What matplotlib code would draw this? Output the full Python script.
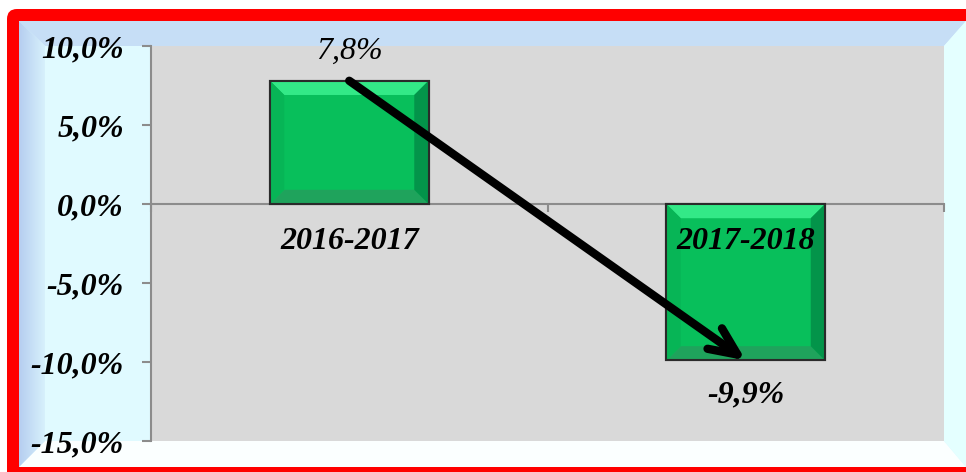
import numpy as np
import matplotlib.pyplot as plt
from matplotlib.colors import LinearSegmentedColormap
from matplotlib.patches import Polygon, FancyBboxPatch, Rectangle

periods = ['2016-2017', '2017-2018']
changes = [7.8, -9.9]
yticks = [10, 5, 0, -5, -10, -15]


def pct(v):
    return f'{v:.1f}%'.replace('.', ',')


W, H = 966, 472
fig = plt.figure(figsize=(W / 100, H / 100), dpi=100)
fig.patch.set_facecolor('white')

# background frame drawn in pixel space
bg = fig.add_axes([0, 0, 1, 1], zorder=0)
bg.axis('off')
bg.add_patch(FancyBboxPatch((7, 9), 1000, 500, boxstyle='round,pad=0,rounding_size=10',
                            fc='#ff0000', ec='none'))
bg.add_patch(Rectangle((19, 21), 1000, 446, fc='#e0faff', ec='none'))
# bevels of the inner panel
bg.add_patch(Polygon([(19, 21), (966, 21), (944, 46), (45, 46)], fc='#c6def6', ec='none'))
bg.add_patch(Polygon([(19, 467), (966, 467), (944, 441), (45, 441)], fc='#fbffff', ec='none'))
bg.add_patch(Polygon([(944, 46), (966, 21), (966, 467), (944, 441)], fc='#e4ffff', ec='none'))
left = Polygon([(19, 21), (45, 46), (45, 441), (19, 467)], fc='none', ec='none')
bg.add_patch(left)
grad = np.linspace(0, 1, 64)[None, :]
im = bg.imshow(grad, extent=(19, 52, 467, 21), aspect='auto', zorder=1,
               cmap=LinearSegmentedColormap.from_list('lb', ['#b6cef0', '#e0faff']))
im.set_clip_path(left)
bg.set_xlim(0, W)
bg.set_ylim(H, 0)

ax = fig.add_axes([151 / W, 1 - 441 / H, (944 - 151) / W, (441 - 46) / H], zorder=2)
ax.set_facecolor('#d9d9d9')
ax.set_xlim(-0.5, 1.5)
ax.set_ylim(-15, 10)

x = np.arange(len(changes))
bw = 0.4
ax.bar(x, changes, width=bw, color='#08bf5b', edgecolor='#2a2a2a', linewidth=1.5, zorder=3)

# bevelled look on each bar
dx, dy = 0.036, 0.9
for xi, v in zip(x, changes):
    x0, x1 = xi - bw / 2, xi + bw / 2
    top, bot = max(0, v), min(0, v)
    faces = [
        ([(x0, top), (x1, top), (x1 - dx, top - dy), (x0 + dx, top - dy)], '#33e987'),
        ([(x0, bot), (x1, bot), (x1 - dx, bot + dy), (x0 + dx, bot + dy)], '#1fa35c'),
        ([(x1, top), (x1, bot), (x1 - dx, bot + dy), (x1 - dx, top - dy)], '#03944a'),
        ([(x0, top), (x0, bot), (x0 + dx, bot + dy), (x0 + dx, top - dy)], '#07b556'),
    ]
    for pts, c in faces:
        ax.add_patch(Polygon(pts, fc=c, ec='none', zorder=3.5))
    ax.add_patch(Rectangle((x0, bot), bw, top - bot, fc='none', ec='#2a2a2a', lw=1.5, zorder=3.6))

serif = 'Liberation Serif'
fs = 23
for xi, v in zip(x, changes):
    if v >= 0:
        ax.annotate(pct(v), (xi, v), xytext=(0, 21), textcoords='offset points',
                    ha='center', va='center', fontsize=fs, style='italic',
                    family=serif, zorder=6)
    else:
        ax.annotate(pct(v), (xi, v), xytext=(0, -25), textcoords='offset points',
                    ha='center', va='center', fontsize=fs, style='italic',
                    weight='bold', family=serif, zorder=6)
    ax.text(xi, -2.4, periods[xi], ha='center', va='center', fontsize=fs,
            style='italic', weight='bold', family=serif, zorder=6)

# trend arrow from the first bar top to the second bar bottom
ax.annotate('', xy=(x[1], changes[1]), xytext=(x[0], changes[0]),
            arrowprops=dict(arrowstyle='->,head_length=2.0,head_width=0.9', color='black',
                            lw=6, capstyle='round', joinstyle='round', shrinkA=0, shrinkB=0),
            zorder=7)

ax.set_yticks(yticks)
ax.set_yticklabels([pct(t) for t in yticks], fontsize=fs, style='italic',
                   weight='bold', family=serif)
ax.set_xticks([-0.5, 0.5, 1.5])
ax.set_xticklabels([])
for s in ['top', 'right']:
    ax.spines[s].set_visible(False)
ax.spines['bottom'].set_position(('data', 0))
ax.spines['bottom'].set_color('#8c8c8c')
ax.spines['bottom'].set_linewidth(1.5)
ax.spines['bottom'].set_zorder(2.5)
ax.spines['left'].set_color('#8c8c8c')
ax.spines['left'].set_linewidth(1.5)
ax.tick_params(axis='y', direction='out', length=6.5, width=1.5, color='#8c8c8c', pad=13)
ax.tick_params(axis='x', direction='out', length=6, width=1.5, color='#8c8c8c')

fig.savefig('out.png', dpi=100)
